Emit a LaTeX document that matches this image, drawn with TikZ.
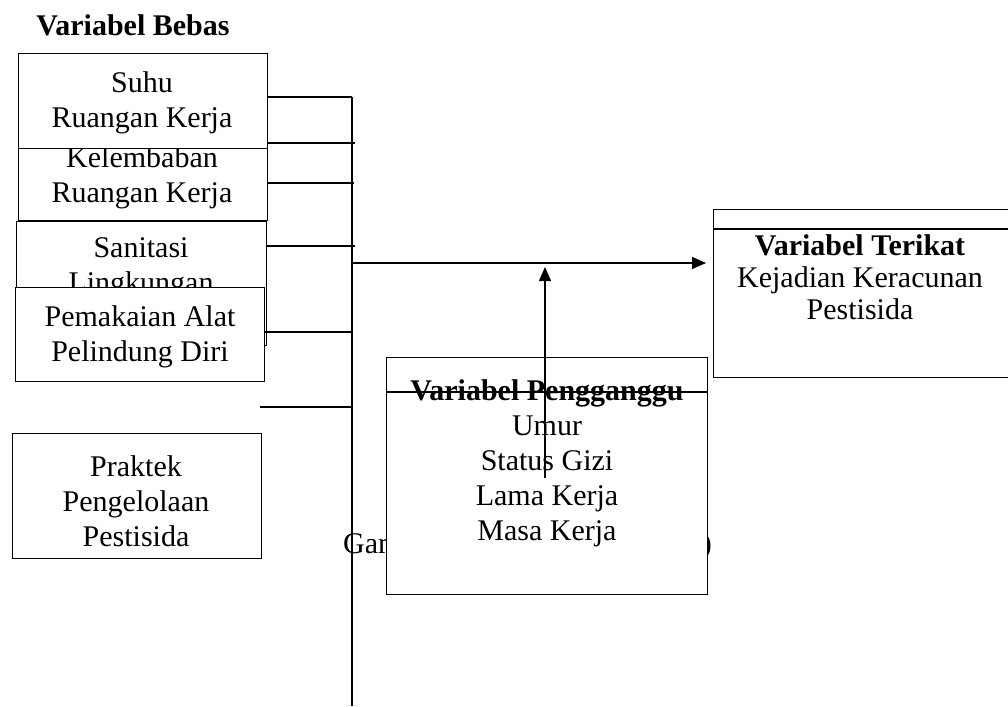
\documentclass[tikz,border=0pt]{standalone}
\usepackage{fontspec}
\setmainfont{Liberation Serif}
\usetikzlibrary{arrows.meta}

\begin{document}
\begin{tikzpicture}[x=1pt,y=-1pt,
	varbox/.style={draw=black,fill=white,line width=1.2pt,inner sep=0pt,anchor=north west},
	vartext/.style={align=center,inner sep=0pt,font=\fontsize{30}{35}\selectfont},
	link/.style={line width=1.2pt},
	arrowlink/.style={line width=1.2pt,-{Triangle[length=14pt,width=12pt]}}]
	
	\useasboundingbox (0,0) rectangle (1008,706);
	
	\node[vartext,font=\fontsize{30}{35}\selectfont\bfseries] (bebas) at (133,25) {Variabel Bebas};
	
	% independent variables
	\node[varbox,minimum width=249pt,minimum height=72pt] (kelembaban) at (18,148) {};
	\node[vartext] (kelembabantxt) at (142,178) {Kelembaban\\Ruangan Kerja};
	\node[varbox,minimum width=249pt,minimum height=95pt] (suhu) at (18,53) {};
	\node[vartext] (suhutxt) at (142,103) {Suhu\\Ruangan Kerja};
	
	\node[varbox,minimum width=250pt,minimum height=124pt] (sanitasi) at (16,221) {};
	\node[vartext] (sanitasitxt) at (141,268) {Sanitasi\\Lingkungan};
	\node[varbox,minimum width=249pt,minimum height=94pt] (apd) at (15,287) {};
	\node[vartext] (apdtxt) at (140,337) {Pemakaian Alat\\Pelindung Diri};
	
	\node[varbox,minimum width=249pt,minimum height=125pt] (praktek) at (12,433) {};
	\node[vartext] (praktektxt) at (136,501) {Praktek\\Pengelolaan\\Pestisida};
	
	% dependent variable
	\node[varbox,minimum width=300pt,minimum height=168pt] (terikat) at (713,209) {};
	\draw[link] (terikat.north west) ++(0,20) -- ++(300,0);
	\node[vartext,font=\fontsize{30}{32}\selectfont] (terikattxt) at (860,277)
		{\textbf{Variabel Terikat}\\Kejadian Keracunan\\Pestisida};
	
	% caption behind the confounder box
	\node[vartext,anchor=base west] (capstart) at (343,553) {Gam};
	\node[vartext,anchor=base east] (capend) at (712,553) {)};
	
	% confounding variables
	\node[varbox,minimum width=321pt,minimum height=237pt] (pengganggu) at (386,357) {};
	\node[vartext] (pengganggutxt) at (547,463)
		{\textbf{Variabel Pengganggu}\\Umur\\Status Gizi\\Lama Kerja\\Masa Kerja};
	\draw[link] (pengganggu.north west) ++(0,35) -- ++(321,0);
	
	% collecting line
	\coordinate (bustop) at (352,97);
	\coordinate (busbot) at (352,706);
	\coordinate (b2) at (355,143);
	\coordinate (b3) at (354,183);
	\coordinate (b4) at (355,246);
	\coordinate (b5) at (352,332);
	\coordinate (b6) at (352,407);
	\coordinate (praktekend) at (260,407);
	\coordinate (hub) at (353,263);
	\coordinate (modtail) at (545,478);
	
	\draw[link] (bustop) -- (busbot);
	\draw[link] (suhu.east |- bustop) -- (bustop);
	\draw[link] (suhu.east |- b2) -- (b2);
	\draw[link] (kelembaban.east |- b3) -- (b3);
	\draw[link] (sanitasi.east |- b4) -- (b4);
	\draw[link] (apd.east |- b5) -- (b5);
	\draw[link] (praktekend) -- (b6);
	
	\draw[arrowlink,shorten >=7pt] (hub) -- (hub -| terikat.west);
	\draw[arrowlink,shorten >=4pt] (modtail) -- (modtail |- hub);
	
\end{tikzpicture}
\end{document}
